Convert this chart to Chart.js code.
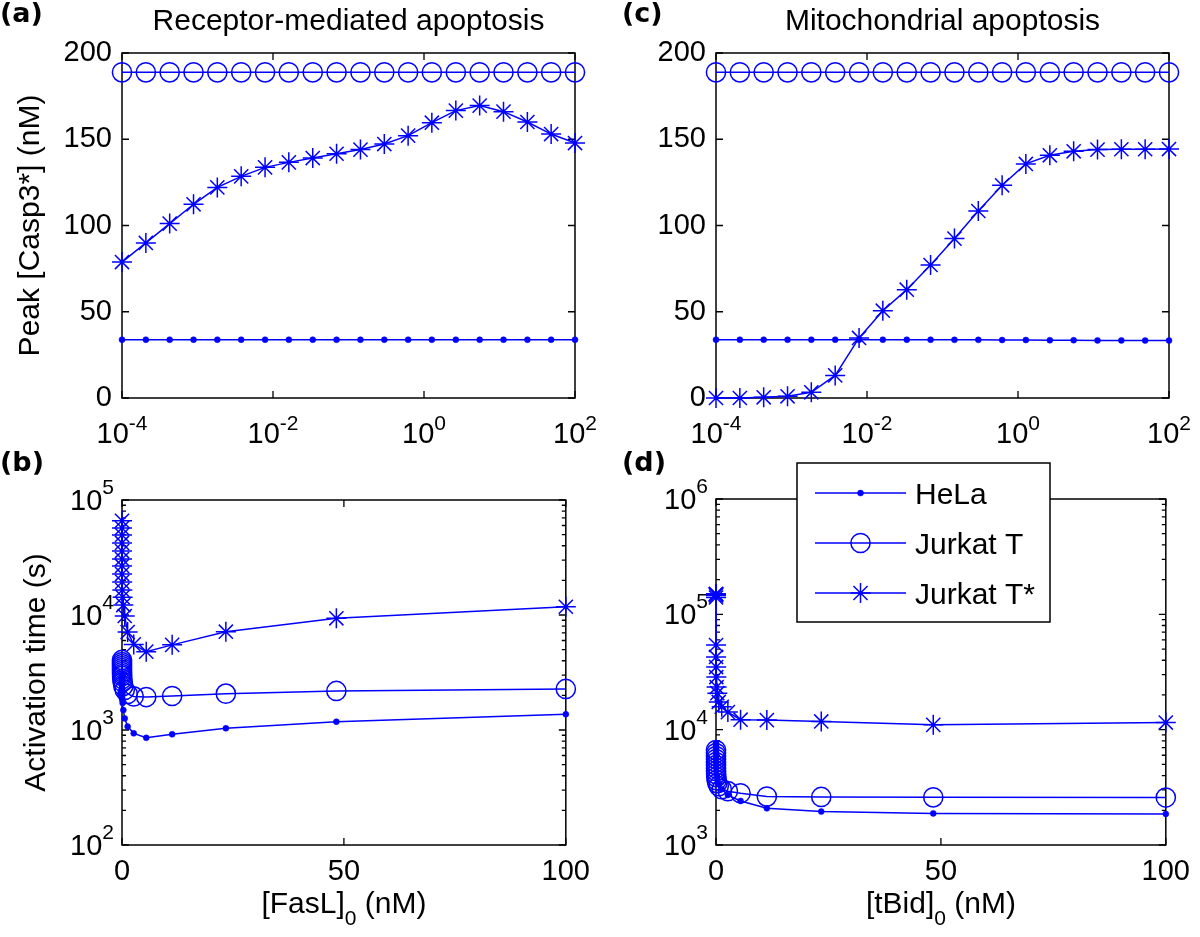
<!DOCTYPE html>
<html>
<head>
<meta charset="utf-8">
<script src="https://cdn.jsdelivr.net/npm/chart.js@4.4.1/dist/chart.umd.min.js"></script>
<style>
html,body{margin:0;padding:0;background:#fff;}
#wrap{position:relative;width:1200px;height:937px;overflow:hidden;background:#fff;}
canvas{position:absolute;}
</style>
</head>
<body>
<div id="wrap">
<canvas id="ca" width="600" height="450" style="left:0;top:0;width:600px;height:450px"></canvas>
<canvas id="cc" width="600" height="450" style="left:600px;top:0;width:600px;height:450px"></canvas>
<canvas id="cb" width="600" height="487" style="left:0;top:450px;width:600px;height:487px"></canvas>
<canvas id="cd" width="600" height="487" style="left:600px;top:450px;width:600px;height:487px"></canvas>
</div>
<script>
// ---------------- data ----------------
const seriesNames = ['HeLa', 'Jurkat T', 'Jurkat T*'];

// initial ligand concentration (nM), 20 log-spaced samples
const concentration = [0.0001, 0.000207, 0.000428, 0.000886, 0.00183, 0.00379, 0.00785, 0.0162, 0.0336, 0.0695,
                       0.144, 0.298, 0.616, 1.27, 2.64, 5.46, 11.3, 23.4, 48.3, 100];

// (a) receptor-mediated apoptosis: peak [Casp3*] (nM)
const peakReceptorHeLa = [33.8, 33.8, 33.8, 33.8, 33.8, 33.8, 33.8, 33.8, 33.8, 33.8,
                          33.8, 33.8, 33.8, 33.8, 33.8, 33.8, 33.8, 33.8, 33.8, 33.8];
const peakReceptorJurkat = [188.8, 188.8, 188.8, 188.8, 188.8, 188.8, 188.8, 188.8, 188.8, 188.8,
                            188.8, 188.8, 188.8, 188.8, 188.8, 188.8, 188.8, 188.8, 188.8, 188.8];
const peakReceptorJurkatStar = [78.8, 89.9, 101.1, 112.3, 122.1, 128.5, 133.7, 136.6, 139.1, 141.6,
                                144.0, 147.2, 152.1, 159.6, 166.6, 169.5, 166.0, 160.0, 153.0, 147.8];

// (c) mitochondrial apoptosis: peak [Casp3*] (nM)
const peakMitoHeLa = [33.8, 33.8, 33.8, 33.8, 33.8, 33.8, 33.8, 33.8, 33.8, 33.8,
                      33.7, 33.7, 33.6, 33.6, 33.5, 33.5, 33.4, 33.4, 33.3, 33.3];
const peakMitoJurkat = [188.8, 188.8, 188.8, 188.8, 188.8, 188.8, 188.8, 188.8, 188.8, 188.8,
                        188.8, 188.8, 188.8, 188.8, 188.8, 188.8, 188.8, 188.8, 188.8, 188.8];
const peakMitoJurkatStar = [0, 0, 0.4, 1, 3.3, 13.1, 34.8, 50.6, 62.8, 77.1,
                            92.4, 108.4, 123.3, 135.7, 140.7, 143.0, 144.0, 144.2, 144.2, 144.3];

// (b) receptor-mediated apoptosis: activation time (s)
const timeReceptorHeLa = [2950, 2775, 2615, 2460, 2320, 2230, 2140, 2060, 1935, 1825,
                          1720, 1490, 1262, 1070, 935, 855, 918, 1035, 1180, 1370];
const timeReceptorJurkat = [4065, 3900, 3750, 3600, 3460, 3325, 3195, 3070, 2950, 2775,
                            2615, 2415, 2230, 2060, 1960, 1935, 1975, 2070, 2185, 2275];
const timeReceptorJurkatStar = [66000, 57100, 49600, 42300, 36000, 30700, 26700, 22700, 19400, 16500,
                                14300, 12200, 9800, 7110, 5550, 4800, 5500, 7160, 9360, 11800];

// (d) mitochondrial apoptosis: activation time (s)
const timeMitoHeLa = [7650, 7210, 6790, 6400, 6030, 5680, 5350, 5040, 4750, 4380,
                      4040, 3730, 3380, 3050, 2710, 2410, 2080, 1950, 1880, 1860];
const timeMitoJurkat = [6650, 6270, 5900, 5560, 5230, 4930, 4640, 4370, 4120, 3880,
                        3650, 3440, 3240, 3050, 2930, 2810, 2630, 2610, 2590, 2580];
const timeMitoJurkatStar = [150000, 150000, 149000, 148000, 146000, 140000, 54200, 42700, 34900, 28600,
                            23400, 20700, 17400, 15800, 14200, 12200, 12100, 11780, 11010, 11530];

// tick values
const peakTicks = [0, 50, 100, 150, 200];
const concLogTicks = [0.0001, 0.01, 1, 100];
const concLinearTicks = [0, 50, 100];
const timeReceptorTicks = [100, 1000, 10000, 100000];
const timeMitoTicks = [1000, 10000, 100000, 1000000];

// ---------------- styling ----------------
const FONT = '"Liberation Sans", Arial, Helvetica, sans-serif';
Chart.defaults.font.family = FONT;
Chart.defaults.color = '#000';
const BLUE = '#0000ff';
const TICK_FONT = 29, LABEL_FONT = 30, SUP_FONT = 21;

const markerStyles = [
  {pointStyle: 'circle', pointRadius: 3, pointBackgroundColor: BLUE, pointBorderColor: BLUE, pointBorderWidth: 0.5},
  {pointStyle: 'circle', pointRadius: 9.6, pointBackgroundColor: 'rgba(0,0,0,0)', pointBorderColor: BLUE, pointBorderWidth: 1.5},
  {pointStyle: 'star', pointRadius: 10, pointBackgroundColor: 'rgba(0,0,0,0)', pointBorderColor: BLUE, pointBorderWidth: 1.5}
];

function makeDatasets(arrays) {
  return arrays.map((arr, i) => Object.assign({
    label: seriesNames[i],
    data: concentration.map((c, j) => ({x: c, y: arr[j]})),
    showLine: true, borderColor: BLUE, borderWidth: 1.5, tension: 0, clip: false,
    pointHoverRadius: markerStyles[i].pointRadius
  }, markerStyles[i]));
}

function setTicks(values) { return s => { s.ticks = values.map(v => ({value: v})); }; }

function drawPow(ctx, x, baseY, supY, e, align) {
  ctx.font = TICK_FONT + 'px ' + FONT;
  const w1 = ctx.measureText('10').width;
  ctx.font = SUP_FONT + 'px ' + FONT;
  const w2 = ctx.measureText(e).width;
  const x0 = align === 'center' ? x - (w1 + w2) / 2 : x - (w1 + w2);
  ctx.textAlign = 'left';
  ctx.textBaseline = 'alphabetic';
  ctx.font = TICK_FONT + 'px ' + FONT;
  ctx.fillText('10', x0, baseY);
  ctx.font = SUP_FONT + 'px ' + FONT;
  ctx.fillText(e, x0 + w1, supY);
}

const decorPlugin = {
  id: 'decor',
  beforeDatasetsDraw(chart, args, o) {
    const {ctx, chartArea: a} = chart;
    const xs = chart.scales.x, ys = chart.scales.y;
    ctx.save();
    ctx.strokeStyle = '#000';
    ctx.lineWidth = 1.5;
    ctx.strokeRect(a.left, a.top, a.right - a.left, a.bottom - a.top);
    ctx.lineWidth = 1.3;
    ctx.beginPath();
    const L = 7;
    xs.ticks.forEach(t => {
      const p = xs.getPixelForValue(t.value);
      ctx.moveTo(p, a.bottom); ctx.lineTo(p, a.bottom - L);
      ctx.moveTo(p, a.top); ctx.lineTo(p, a.top + L);
    });
    ys.ticks.forEach(t => {
      const p = ys.getPixelForValue(t.value);
      ctx.moveTo(a.left, p); ctx.lineTo(a.left + L, p);
      ctx.moveTo(a.right, p); ctx.lineTo(a.right - L, p);
    });
    if (o.minorY) {
      for (let i = 0; i < ys.ticks.length - 1; i++) {
        const d = ys.ticks[i].value;
        for (let k = 2; k <= 9; k++) {
          const p = ys.getPixelForValue(k * d);
          ctx.moveTo(a.left, p); ctx.lineTo(a.left + 4, p);
          ctx.moveTo(a.right, p); ctx.lineTo(a.right - 4, p);
        }
      }
    }
    ctx.stroke();
    ctx.restore();
  },
  afterDraw(chart, args, o) {
    const {ctx, chartArea: a} = chart;
    ctx.save();
    ctx.fillStyle = '#000';
    ctx.textBaseline = 'alphabetic';
    // panel letter
    ctx.font = 'bold 27px "DejaVu Sans", sans-serif';
    ctx.textAlign = 'left';
    ctx.fillText(o.letter, o.letterX, o.letterY);
    // panel title
    if (o.title) {
      ctx.font = LABEL_FONT + 'px ' + FONT;
      ctx.textAlign = 'center';
      ctx.fillText(o.title, (a.left + a.right) / 2, o.titleY);
    }
    // log tick labels on x
    if (o.logX) {
      const s = chart.scales.x;
      s.ticks.forEach(t => {
        const p = s.getPixelForValue(t.value);
        drawPow(ctx, p, a.bottom + 45, a.bottom + 32, String(Math.round(Math.log10(t.value))), 'center');
      });
    }
    // log tick labels on y
    if (o.logY) {
      const s = chart.scales.y;
      s.ticks.forEach(t => {
        const p = s.getPixelForValue(t.value);
        drawPow(ctx, a.left - 8, p + 10, p - 6, String(Math.round(Math.log10(t.value))), 'right');
      });
    }
    // x title with subscript
    if (o.xTitle) {
      const [m, sub, rest] = o.xTitle;
      ctx.font = LABEL_FONT + 'px ' + FONT;
      const w1 = ctx.measureText(m).width, w3 = ctx.measureText(rest).width;
      ctx.font = SUP_FONT + 'px ' + FONT;
      const w2 = ctx.measureText(sub).width;
      let x0 = (a.left + a.right) / 2 - (w1 + w2 + w3) / 2;
      const by = a.bottom + 68;
      ctx.textAlign = 'left';
      ctx.font = LABEL_FONT + 'px ' + FONT;
      ctx.fillText(m, x0, by);
      ctx.font = SUP_FONT + 'px ' + FONT;
      ctx.fillText(sub, x0 + w1, by + 12);
      ctx.font = LABEL_FONT + 'px ' + FONT;
      ctx.fillText(rest, x0 + w1 + w2, by);
    }
    // legend
    if (o.legend) {
      const g = o.legend;
      ctx.fillStyle = '#fff';
      ctx.fillRect(g.x, g.y, g.w, g.h);
      ctx.strokeStyle = '#000';
      ctx.lineWidth = 1.5;
      ctx.strokeRect(g.x, g.y, g.w, g.h);
      chart.data.datasets.forEach((ds, i) => {
        const y = g.rows[i];
        ctx.strokeStyle = ds.borderColor;
        ctx.lineWidth = ds.borderWidth;
        ctx.beginPath(); ctx.moveTo(g.lineX1, y); ctx.lineTo(g.lineX2, y); ctx.stroke();
        ctx.fillStyle = ds.pointBackgroundColor;
        ctx.strokeStyle = ds.pointBorderColor;
        ctx.lineWidth = ds.pointBorderWidth;
        Chart.helpers.drawPoint(ctx, {pointStyle: ds.pointStyle, radius: ds.pointRadius, rotation: 0, borderWidth: ds.pointBorderWidth}, (g.lineX1 + g.lineX2) / 2, y);
        ctx.fillStyle = '#000';
        ctx.font = LABEL_FONT + 'px ' + FONT;
        ctx.textAlign = 'left';
        ctx.textBaseline = 'alphabetic';
        ctx.fillText(ds.label, g.textX, y + 10.5);
      });
    }
    ctx.restore();
  }
};

const hiddenGrid = {display: false, drawTicks: false};
const noBorder = {display: false};

function panel(id, o) {
  return new Chart(document.getElementById(id), {
    type: 'scatter',
    data: {datasets: makeDatasets(o.series)},
    options: {
      responsive: false, animation: false, events: [],
      layout: {padding: {left: 0, right: o.padRight, top: o.padTop, bottom: 0}},
      plugins: {legend: {display: false}, tooltip: {enabled: false}, decor: o.decor},
      scales: {x: o.x, y: o.y}
    },
    plugins: [decorPlugin]
  });
}

function logConcAxis() {
  return {type: 'logarithmic', min: 0.0001, max: 100, grid: hiddenGrid, border: noBorder,
    ticks: {display: false}, afterBuildTicks: setTicks(concLogTicks), afterFit: s => { s.height = 52; }};
}
function linConcAxis() {
  return {type: 'linear', min: 0, max: 100, grid: hiddenGrid, border: noBorder,
    ticks: {font: {size: TICK_FONT}, padding: 10, color: '#000'}, afterBuildTicks: setTicks(concLinearTicks),
    afterFit: s => { s.height = 92; }};
}
function peakAxis(width, title) {
  const ax = {type: 'linear', min: 0, max: 200, grid: hiddenGrid, border: noBorder,
    ticks: {font: {size: TICK_FONT}, padding: 10, color: '#000'}, afterBuildTicks: setTicks(peakTicks),
    afterFit: s => { s.width = width; }};
  if (title) ax.title = {display: true, text: title, font: {size: LABEL_FONT}, color: '#000', padding: {top: 13}};
  return ax;
}
function timeAxis(width, ticks, title) {
  const ax = {type: 'logarithmic', min: ticks[0], max: ticks[ticks.length - 1], grid: hiddenGrid, border: noBorder,
    ticks: {display: false}, afterBuildTicks: setTicks(ticks), afterFit: s => { s.width = width; }};
  if (title) ax.title = {display: true, text: title, font: {size: LABEL_FONT}, color: '#000', padding: {top: 19}};
  return ax;
}

// (a)
panel('ca', {
  series: [peakReceptorHeLa, peakReceptorJurkat, peakReceptorJurkatStar],
  padRight: 25, padTop: 53,
  x: logConcAxis(), y: peakAxis(122, 'Peak [Casp3*] (nM)'),
  decor: {letter: '(a)', letterX: 0, letterY: 22, title: 'Receptor-mediated apoptosis', titleY: 30, logX: true}
});
// (c)
panel('cc', {
  series: [peakMitoHeLa, peakMitoJurkat, peakMitoJurkatStar],
  padRight: 31, padTop: 53,
  x: logConcAxis(), y: peakAxis(116, null),
  decor: {letter: '(c)', letterX: 22, letterY: 22, title: 'Mitochondrial apoptosis', titleY: 30, logX: true}
});
// (b)
panel('cb', {
  series: [timeReceptorHeLa, timeReceptorJurkat, timeReceptorJurkatStar],
  padRight: 26, padTop: 50,
  x: linConcAxis(), y: timeAxis(122, timeReceptorTicks, 'Activation time (s)'),
  decor: {letter: '(b)', letterX: 0, letterY: 21, logY: true, minorY: true, xTitle: ['[FasL]', '0', ' (nM)']}
});
// (d)
panel('cd', {
  series: [timeMitoHeLa, timeMitoJurkat, timeMitoJurkatStar],
  padRight: 31, padTop: 49,
  x: linConcAxis(), y: timeAxis(116, timeMitoTicks, null),
  decor: {letter: '(d)', letterX: 22, letterY: 21, logY: true, minorY: true, xTitle: ['[tBid]', '0', ' (nM)'],
    legend: {x: 197, y: 13, w: 253, h: 159, rows: [43, 93, 143], lineX1: 215, lineX2: 306, textX: 315}}
});
</script>
</body>
</html>
